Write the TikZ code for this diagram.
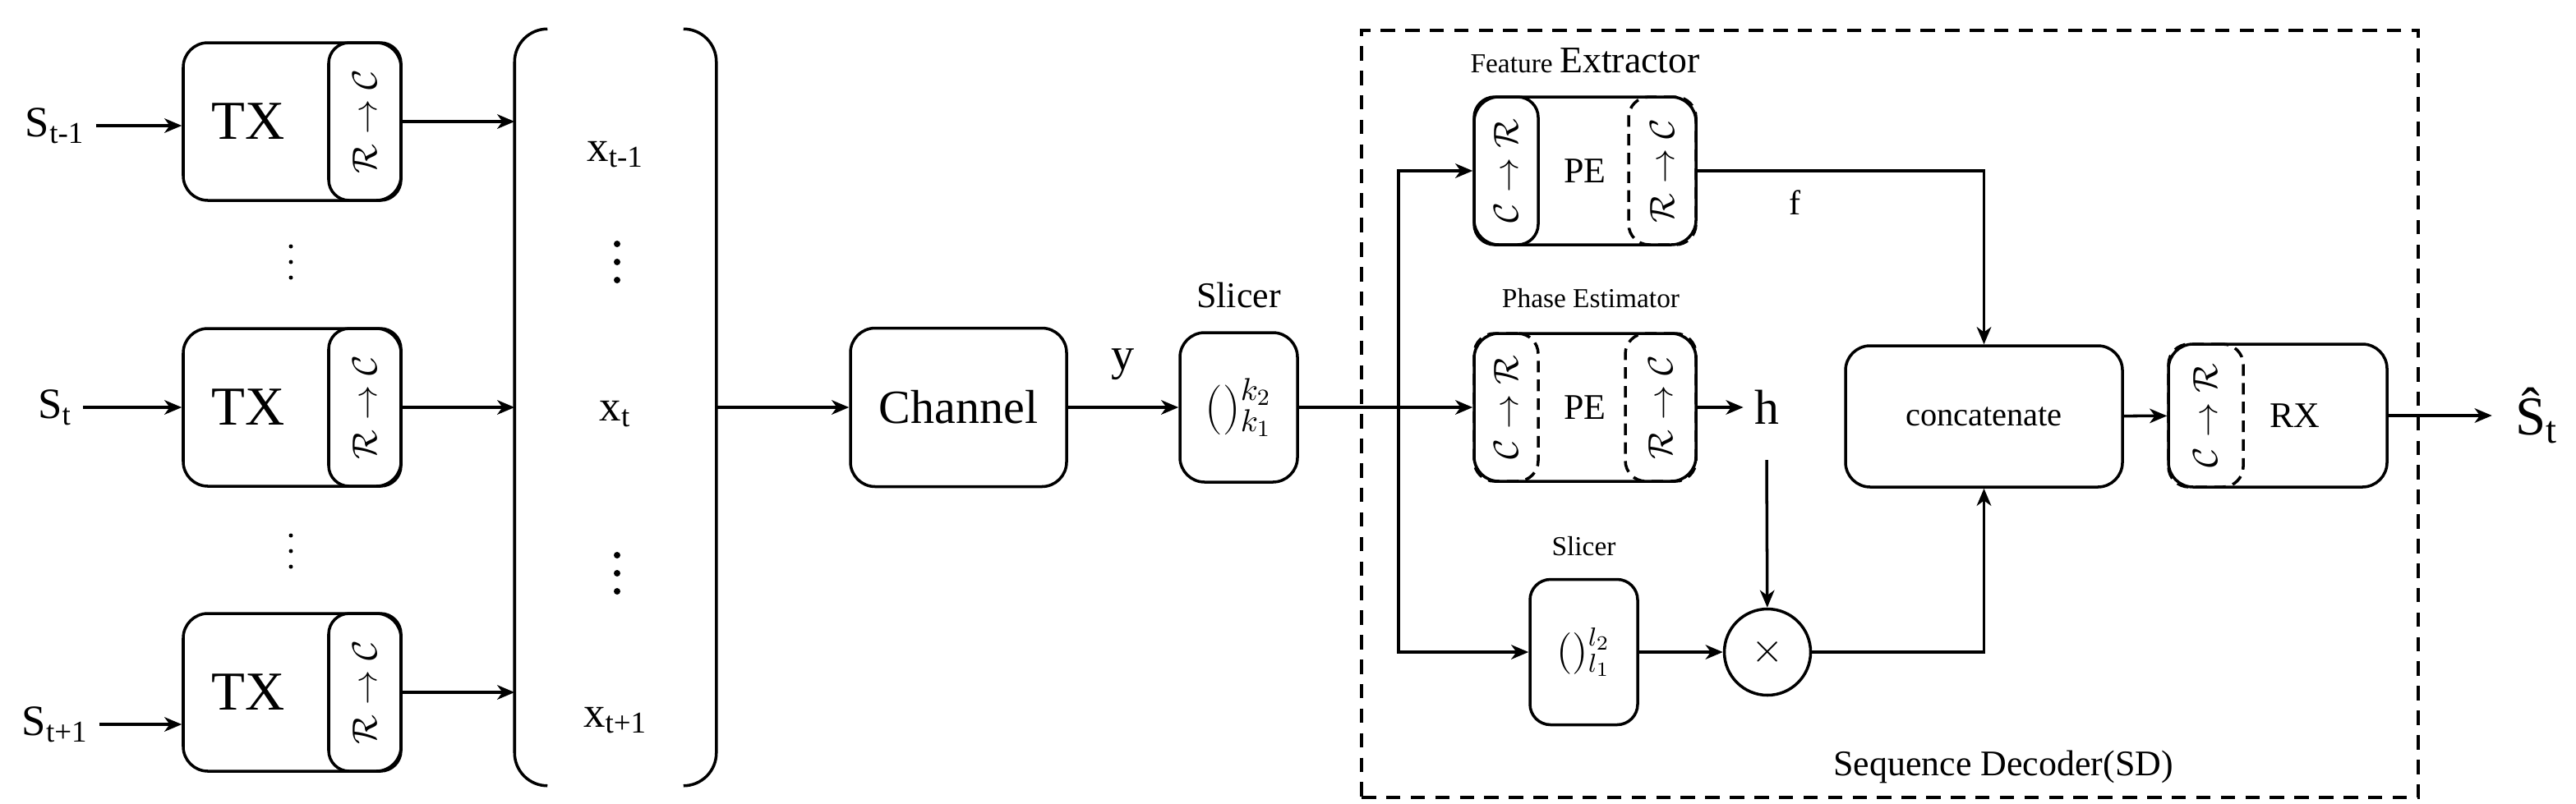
\documentclass[tikz,border=0pt]{standalone}
\usepackage{fontspec}
\setmainfont{Liberation Serif}
\usetikzlibrary{arrows.meta,positioning,calc}

\begin{document}
\begin{tikzpicture}[
  line width=1pt, >={Stealth[length=6pt,width=5pt,inset=1.8pt]},
  blk/.style={draw, rounded corners=3mm, inner sep=0pt},
  subs/.style={draw, rounded corners=2.5mm, inner sep=0pt},
  subd/.style={draw, dash pattern=on 4pt off 2.5pt, rounded corners=2.5mm, inner sep=0pt},
  cnv/.style={rotate=90, font=\fontsize{11.5}{12}\selectfont},
  fbig/.style={font=\fontsize{19}{22}\selectfont},
  flab/.style={font=\fontsize{15}{18}\selectfont},
  fmid/.style={font=\fontsize{12.5}{15}\selectfont},
  fsml/.style={font=\fontsize{9.5}{11}\selectfont}
]
\useasboundingbox (0,0) rectangle (31.35,-9.78);

%--- Stacked vector (x_t) ---
\node[minimum width=2.42cm, minimum height=9.18cm, inner sep=0pt] (vec) at (7.49,-4.96) {};
\draw[rounded corners=4mm] ([xshift=4mm]vec.north west) -- (vec.north west) -- (vec.south west) -- ([xshift=4mm]vec.south west);
\draw[rounded corners=4mm] ([xshift=-4mm]vec.north east) -- (vec.north east) -- (vec.south east) -- ([xshift=-4mm]vec.south east);
\node[flab] (x1) at (7.49,-1.88) {x\textsubscript{t-1}};
\node[flab] (x2) at (7.49,-5.04) {x\textsubscript{t}};
\node[flab] (x3) at (7.49,-8.77) {x\textsubscript{t+1}};
\foreach \c in {-3.19,-6.98}
  \foreach \d in {-0.22,0,0.22}
    \fill (7.51,\c+\d) circle (0.04);

%--- Transmitters ---
\foreach \i/\y/\ys/\s in {1/-1.48/-1.53/{t-1}, 2/-4.96/-4.96/t, 3/-8.43/-8.82/{t+1}} {
  \node[blk, minimum width=2.65cm, minimum height=1.92cm] (tx\i) at (3.555,\y) {};
  \node[fbig] at (3.02,\y) {TX};
  \node[subs, minimum width=0.88cm, minimum height=1.92cm, anchor=east] (rc\i) at (tx\i.east) {};
  \node[cnv] at (rc\i) {$\mathcal{R}\rightarrow\mathcal{C}$};
  \node[flab] (s\i) at (0.67,\ys) {S\textsubscript{\s}};
  \draw[->] (s\i) -- (s\i -| tx\i.west);
  \draw[->] (rc\i) -- (rc\i -| vec.west);
}
\foreach \c in {-3.19,-6.71}
  \foreach \d in {-0.19,0,0.19}
    \fill (3.54,\c+\d) circle (0.025);

%--- Channel and slicer ---
\node[blk, minimum width=2.63cm, minimum height=1.93cm, font=\fontsize{16.5}{19}\selectfont] (ch) at (11.665,-4.96) {Channel};
\draw[->] (vec) -- (ch);
\node[blk, minimum width=1.43cm, minimum height=1.82cm, font=\fontsize{16}{18}\selectfont] (sl1) at (15.075,-4.96) {$()^{k_2}_{k_1}$};
\node[fmid, above=1.5mm of sl1] {Slicer};
\draw[->] (ch) -- node[above=2mm, font=\fontsize{16}{18}\selectfont] {y} (sl1);

%--- Sequence decoder ---
\node[draw, dash pattern=on 5pt off 3.5pt, minimum width=12.86cm, minimum height=9.34cm, inner sep=0pt] (sd) at (23.0,-5.04) {};
\node[fmid] at (24.38,-9.34) {Sequence Decoder(SD)};
\coordinate (sp) at (17.02,-4.96);

% feature extractor
\node[blk, minimum width=2.70cm, minimum height=1.80cm, fmid] (fe) at (19.29,-2.08) {PE};
\node[subs, minimum width=0.78cm, minimum height=1.80cm, anchor=west] (fecr) at (fe.west) {};
\node[cnv] at (fecr) {$\mathcal{C}\rightarrow\mathcal{R}$};
\node[subd, minimum width=0.82cm, minimum height=1.80cm, anchor=east] (ferc) at (fe.east) {};
\node[cnv] at (ferc) {$\mathcal{R}\rightarrow\mathcal{C}$};
\node[above=1.4mm of fe] {{\fontsize{9.5}{11}\selectfont Feature} {\fontsize{13}{15}\selectfont Extractor}};

% phase estimator
\node[blk, minimum width=2.70cm, minimum height=1.80cm, fmid] (pe) at (19.29,-4.96) {PE};
\node[subd, minimum width=0.78cm, minimum height=1.80cm, anchor=west] (pecr) at (pe.west) {};
\node[cnv] at (pecr) {$\mathcal{C}\rightarrow\mathcal{R}$};
\node[subd, minimum width=0.86cm, minimum height=1.80cm, anchor=east] (perc) at (pe.east) {};
\node[cnv] at (perc) {$\mathcal{R}\rightarrow\mathcal{C}$};
\node[fsml, above=1.6mm of pe, xshift=0.07cm] {Phase Estimator};
\node[font=\fontsize{17}{19}\selectfont] (h) at (21.50,-4.96) {h};

% inner slicer and product
\node[blk, rounded corners=2.5mm, minimum width=1.31cm, minimum height=1.77cm, font=\fontsize{13.5}{15}\selectfont] (sl2) at (19.275,-7.94) {$()^{l_2}_{l_1}$};
\node[fsml, above=1.3mm of sl2] {Slicer};
\node[draw, circle, minimum size=1.05cm, inner sep=0pt, font=\fontsize{14}{14}\selectfont] (mul) at (21.51,-7.94) {$\times$};

% concatenate and receiver
\node[blk, minimum width=3.37cm, minimum height=1.72cm, font=\fontsize{11.5}{13}\selectfont] (cat) at (24.145,-5.07) {concatenate};
\node[blk, minimum width=2.66cm, minimum height=1.74cm] (rx) at (27.72,-5.06) {};
\node[subd, minimum width=0.91cm, minimum height=1.74cm, anchor=west] (rxcr) at (rx.west) {};
\node[cnv] at (rxcr) {$\mathcal{C}\rightarrow\mathcal{R}$};
\node[fmid] at ([xshift=0.21cm]rx.center) {RX};

%--- Connections ---
\draw (sl1) -- (sp);
\draw[->] (sp) -- (pe);
\draw[->] (sp) |- (fe);
\draw[->] (sp) |- (sl2);
\draw[->] (pe) -- (h);
\draw[->] ([yshift=-3mm]h.south) -- (mul);
\draw[->] (sl2) -- (mul);
\draw[->] (fe) -| node[pos=0.17, below=1mm, font=\fontsize{12}{14}\selectfont] {f} (cat);
\draw[->] (mul) -| (cat);
\draw[->] (cat) -- (rx);
\draw[->] (rx.east) -- ++(1.26,0) coordinate (oe);
\node[fbig, right=0.15cm of oe] (shat) {Ŝ\textsubscript{t}};
\end{tikzpicture}
\end{document}
